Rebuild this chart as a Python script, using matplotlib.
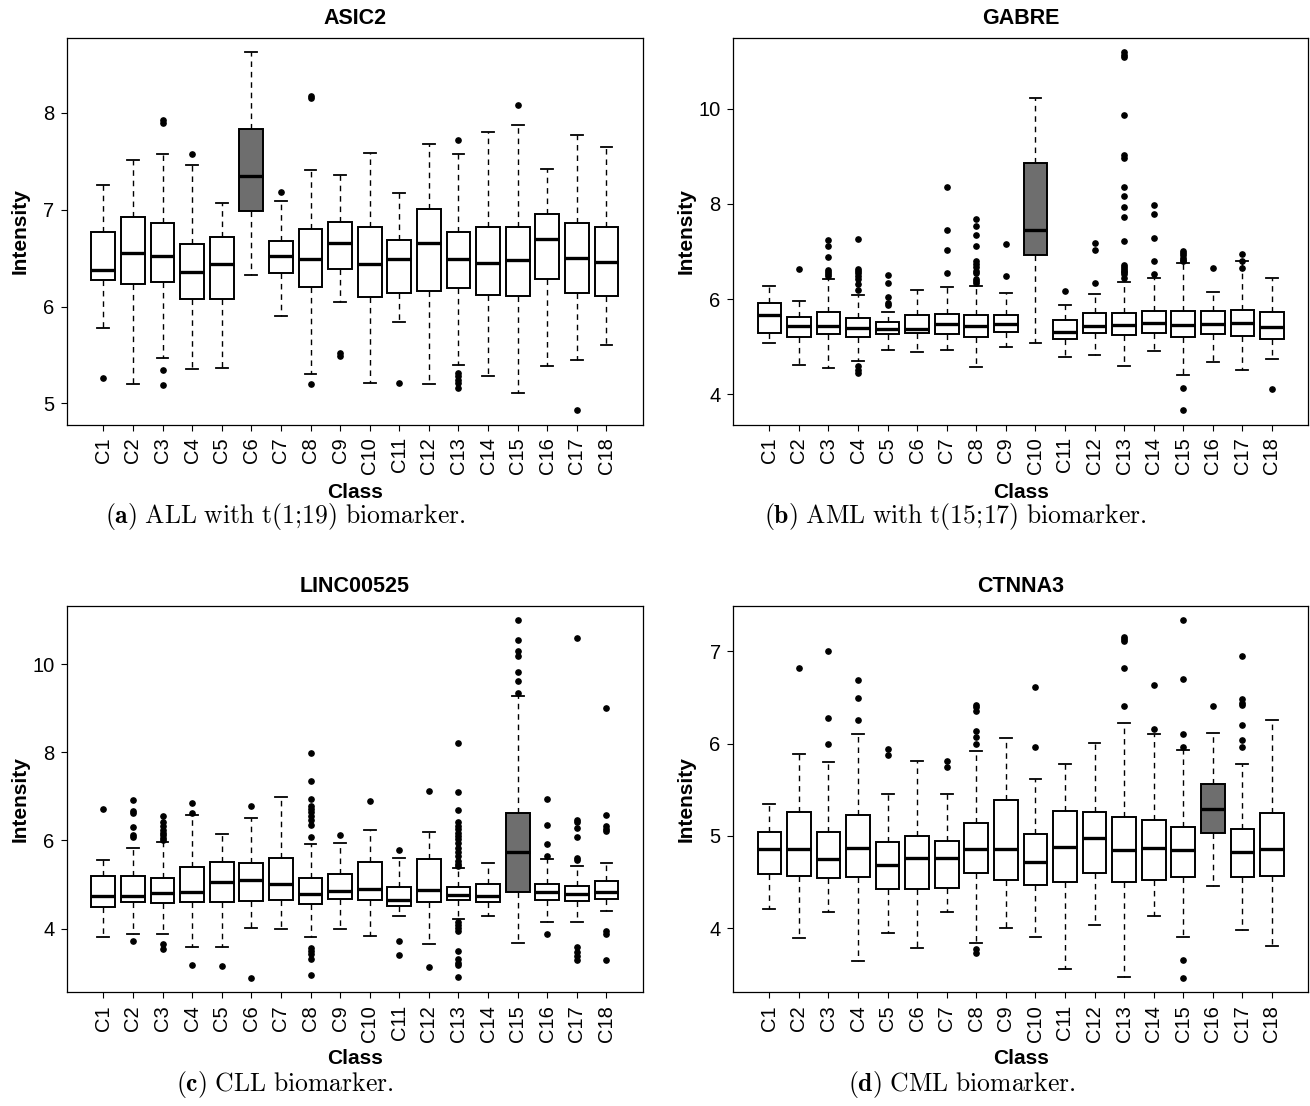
import matplotlib
matplotlib.use("Agg")
import matplotlib.pyplot as plt

plt.rcParams["mathtext.fontset"] = "cm"
plt.rcParams["font.family"] = ["Liberation Sans", "DejaVu Sans"]

classes = [f"C{i}" for i in range(1, 19)]

# ---------------- (a) ASIC2 ----------------
a_hi = [7.25, 7.51, 7.58, 7.46, 7.07, 8.63, 7.09, 7.41, 7.36, 7.59, 7.17, 7.68, 7.57, 7.80, 7.87, 7.42, 7.77, 7.65]
a_q3 = [6.77, 6.92, 6.86, 6.65, 6.72, 7.83, 6.68, 6.80, 6.87, 6.82, 6.69, 7.01, 6.77, 6.82, 6.82, 6.96, 6.86, 6.82]
a_med = [6.38, 6.55, 6.52, 6.36, 6.44, 7.35, 6.52, 6.49, 6.66, 6.44, 6.49, 6.66, 6.49, 6.45, 6.48, 6.70, 6.50, 6.46]
a_q1 = [6.27, 6.23, 6.25, 6.08, 6.08, 6.99, 6.35, 6.20, 6.39, 6.10, 6.14, 6.16, 6.19, 6.12, 6.11, 6.28, 6.14, 6.11]
a_lo = [5.78, 5.20, 5.47, 5.35, 5.37, 6.33, 5.90, 5.30, 6.05, 5.21, 5.84, 5.20, 5.40, 5.28, 5.11, 5.39, 5.45, 5.60]
a_out = [[5.26], [], [7.93, 7.90, 5.34, 5.19], [7.57], [], [], [7.18], [8.17, 8.15, 5.20],
         [5.52, 5.49], [], [5.21], [], [7.72, 5.31, 5.28, 5.24, 5.21, 5.16], [], [8.08], [], [4.93], []]

# ---------------- (b) GABRE ----------------
b_hi = [6.27, 5.96, 6.43, 6.08, 5.73, 6.19, 6.25, 6.28, 6.12, 10.23, 5.87, 6.10, 6.36, 6.44, 6.76, 6.16, 6.79, 6.44]
b_q3 = [5.92, 5.63, 5.74, 5.61, 5.52, 5.66, 5.68, 5.66, 5.66, 8.86, 5.56, 5.71, 5.70, 5.76, 5.75, 5.75, 5.78, 5.73]
b_med = [5.66, 5.43, 5.43, 5.40, 5.38, 5.38, 5.47, 5.43, 5.47, 7.46, 5.31, 5.43, 5.45, 5.49, 5.45, 5.48, 5.50, 5.41]
b_q1 = [5.28, 5.21, 5.26, 5.21, 5.26, 5.29, 5.27, 5.21, 5.31, 6.93, 5.16, 5.28, 5.25, 5.28, 5.20, 5.26, 5.23, 5.16]
b_lo = [5.07, 4.61, 4.55, 4.70, 4.93, 4.90, 4.93, 4.57, 5.00, 5.07, 4.79, 4.83, 4.59, 4.91, 4.41, 4.69, 4.52, 4.75]
b_out = [[], [6.64], [7.25, 7.11, 6.89, 6.62, 6.57, 6.52, 6.48],
         [7.27, 6.64, 6.59, 6.54, 6.48, 6.43, 6.31, 6.20, 4.59, 4.51, 4.44],
         [6.50, 6.33, 6.05, 5.91, 5.88], [], [8.35, 7.46, 7.04, 6.55],
         [7.68, 7.53, 7.34, 7.11, 6.81, 6.74, 6.67, 6.60, 6.55, 6.43, 6.39, 6.34],
         [7.15, 6.48], [], [6.18], [7.18, 7.04, 6.34],
         [11.19, 11.13, 11.09, 9.86, 9.02, 8.97, 8.35, 8.16, 7.93, 7.73, 7.21, 6.71, 6.67, 6.64, 6.60, 6.57, 6.52, 6.45],
         [7.98, 7.79, 7.29, 6.80, 6.53], [7.02, 6.97, 6.92, 6.87, 6.82, 6.79, 4.13, 3.67],
         [6.65], [6.94, 6.81, 6.66], [4.12]]

# ---------------- (c) LINC00525 ----------------
c_hi = [5.55, 5.84, 5.96, 6.57, 6.15, 6.52, 6.99, 5.93, 5.95, 6.24, 5.60, 6.19, 5.37, 5.48, 9.27, 5.58, 5.43, 5.48]
c_q3 = [5.19, 5.19, 5.14, 5.40, 5.52, 5.48, 5.60, 5.15, 5.25, 5.51, 4.95, 5.57, 4.95, 5.02, 6.62, 5.02, 4.96, 5.07]
c_med = [4.75, 4.75, 4.80, 4.84, 5.05, 5.11, 5.01, 4.78, 4.85, 4.90, 4.66, 4.88, 4.77, 4.74, 5.74, 4.83, 4.78, 4.83]
c_q1 = [4.48, 4.61, 4.58, 4.60, 4.60, 4.63, 4.64, 4.57, 4.67, 4.64, 4.52, 4.60, 4.64, 4.61, 4.83, 4.64, 4.62, 4.68]
c_lo = [3.80, 3.87, 3.87, 3.59, 3.59, 4.02, 3.99, 3.80, 4.00, 3.84, 4.29, 3.65, 4.21, 4.29, 3.67, 4.15, 4.15, 4.41]
c_out = [[6.71], [6.92, 6.66, 6.62, 6.30, 6.12, 6.07, 3.72],
         [6.56, 6.43, 6.32, 6.24, 6.18, 6.12, 6.06, 6.00, 3.64, 3.53],
         [6.86, 6.63, 3.17], [3.15], [6.79, 2.88], [],
         [7.98, 7.34, 6.94, 6.79, 6.71, 6.64, 6.55, 6.46, 6.35, 6.08, 3.57, 3.50, 3.43, 3.30, 2.94],
         [6.12], [6.89], [5.78, 3.71, 3.40], [7.12, 3.12],
         [8.22, 7.09, 6.69, 6.41, 6.33, 6.26, 6.18, 6.10, 6.03, 5.94, 5.84, 5.73, 5.64, 5.54, 5.46, 5.41,
          4.16, 4.08, 4.01, 3.95, 3.49, 3.31, 3.23, 3.18, 2.90],
         [], [11.00, 10.55, 10.29, 10.19, 9.82, 9.61, 9.34],
         [6.94, 6.36, 5.91, 5.64, 3.88],
         [10.59, 6.47, 6.41, 6.29, 6.09, 5.60, 5.56, 3.59, 3.47, 3.37, 3.29],
         [9.00, 6.57, 6.33, 6.27, 6.21, 3.95, 3.87, 3.29]]

# ---------------- (d) CTNNA3 ----------------
d_hi = [5.35, 5.89, 5.80, 6.11, 5.45, 5.81, 5.46, 5.92, 6.06, 5.62, 5.78, 6.01, 6.22, 6.11, 5.93, 6.12, 5.78, 6.26]
d_q3 = [5.04, 5.26, 5.04, 5.23, 4.93, 5.00, 4.95, 5.14, 5.39, 5.02, 5.27, 5.26, 5.20, 5.17, 5.10, 5.56, 5.08, 5.25]
d_med = [4.86, 4.86, 4.75, 4.87, 4.68, 4.76, 4.76, 4.86, 4.86, 4.72, 4.88, 4.98, 4.85, 4.87, 4.85, 5.29, 4.83, 4.86]
d_q1 = [4.59, 4.57, 4.54, 4.56, 4.43, 4.43, 4.44, 4.60, 4.52, 4.47, 4.50, 4.60, 4.50, 4.52, 4.55, 5.03, 4.55, 4.57]
d_lo = [4.21, 3.89, 4.18, 3.64, 3.95, 3.79, 4.18, 3.84, 4.00, 3.90, 3.56, 4.03, 3.47, 4.13, 3.90, 4.46, 3.98, 3.81]
d_out = [[], [6.82], [7.00, 6.28, 6.00], [6.69, 6.50, 6.26], [5.94, 5.88], [], [5.81, 5.75],
         [6.42, 6.40, 6.36, 6.14, 6.07, 6.00, 3.77, 3.73], [], [6.61, 5.96], [], [],
         [7.16, 7.13, 7.11, 6.82, 6.41], [6.64, 6.16], [7.34, 6.70, 6.10, 5.96, 3.66, 3.46],
         [6.41], [6.95, 6.48, 6.44, 6.42, 6.20, 6.04, 5.96], []]

titles = ["ASIC2", "GABRE", "LINC00525", "CTNNA3"]
highlight = [5, 9, 14, 15]
yticks = [[5, 6, 7, 8], [4, 6, 8, 10], [4, 6, 8, 10], [4, 5, 6, 7]]
cap_bold = ["(a)", "(b)", "(c)", "(d)"]
cap_text = [r"ALL\ with\ t(1;\!19)\ biomarker.", r"AML\ with\ t(15;\!17)\ biomarker.",
            r"CLL\ biomarker.", r"CML\ biomarker."]

W, H = 1310, 1106
fig = plt.figure(figsize=(W / 100, H / 100), dpi=100)

# axes boxes in pixels: left, top, right, bottom
boxes = [(67.2, 37.5, 642.6, 424.5), (733.3, 37.5, 1308.0, 424.5),
         (67.2, 605.8, 642.6, 992.3), (733.3, 605.8, 1308.0, 992.3)]
ylab_x = [20, 686, 20, 686]
title_y = [18, 18, 587, 587]
class_y = [492, 492, 1058, 1058]
cap_x = [285, 955, 285, 962]
cap_y = [517, 517, 1085, 1085]

data = [(a_med, a_q1, a_q3, a_lo, a_hi, a_out),
        (b_med, b_q1, b_q3, b_lo, b_hi, b_out),
        (c_med, c_q1, c_q3, c_lo, c_hi, c_out),
        (d_med, d_q1, d_q3, d_lo, d_hi, d_out)]

for k in range(4):
    med, q1, q3, lo, hi, out = data[k]
    l, t, r, b = boxes[k]
    ax = fig.add_axes([l / W, 1 - b / H, (r - l) / W, (b - t) / H])
    stats = []
    for i in range(18):
        stats.append(dict(med=med[i], q1=q1[i], q3=q3[i], whislo=lo[i], whishi=hi[i],
                          fliers=out[i], label=classes[i]))
    bp = ax.bxp(stats, positions=list(range(1, 19)), widths=0.8, capwidths=0.4,
                patch_artist=True, showfliers=True,
                boxprops=dict(facecolor="white", edgecolor="black", linewidth=1.4),
                medianprops=dict(color="black", linewidth=2.4, solid_capstyle="butt"),
                whiskerprops=dict(color="black", linewidth=1.0, linestyle=(0, (4, 3.5))),
                capprops=dict(color="black", linewidth=1.3),
                flierprops=dict(marker="o", markerfacecolor="black", markeredgecolor="black",
                                markersize=3.8, linestyle="none"))
    bp["boxes"][highlight[k]].set_facecolor("#6e6e6e")

    allv = lo + hi + [v for o in out for v in o]
    vmin, vmax = min(allv), max(allv)
    pad = 0.04 * (vmax - vmin)
    ax.set_ylim(vmin - pad, vmax + pad)
    ax.set_xlim(-0.22, 19.22)
    ax.set_yticks(yticks[k])
    ax.set_yticklabels([str(v) for v in yticks[k]])
    ax.set_xticks(list(range(1, 19)))
    ax.set_xticklabels(classes, rotation=90)
    ax.tick_params(direction="out", length=4.1, width=0.8, pad=5, labelsize=14.5)
    for s in ax.spines.values():
        s.set_linewidth(0.9)
        s.set_color("black")

    cx = (l + r) / 2
    fig.text(cx / W, 1 - title_y[k] / H, titles[k], ha="center", va="center",
             fontsize=15.5, fontweight="bold")
    fig.text(cx / W, 1 - class_y[k] / H, "Class", ha="center", va="center",
             fontsize=15, fontweight="bold")
    fig.text(ylab_x[k] / W, 1 - ((t + b) / 2) / H, "Intensity", ha="center", va="center",
             rotation=90, fontsize=15, fontweight="bold")
    fig.text(cap_x[k] / W, 1 - cap_y[k] / H,
             r"$\mathbf{" + cap_bold[k] + r"}\ \mathrm{" + cap_text[k] + "}$",
             ha="center", va="center", fontsize=18.5)

fig.savefig("out.png", dpi=100)
